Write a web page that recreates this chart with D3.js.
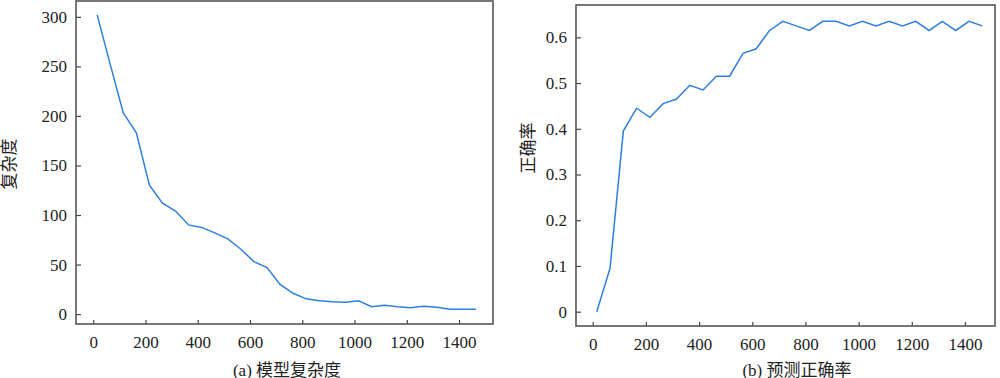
<!DOCTYPE html>
<html lang="zh">
<head>
<meta charset="UTF-8">
<script src="https://d3js.org/d3.v7.min.js"></script>
<style>
  body { margin: 0; background: #fff; }
</style>
</head>
<body>
<div id="chart"></div>
<script>
// sample positions (iterations)
var steps = [15, 65, 115, 165, 215, 265, 315, 365, 415, 465, 515, 565, 615, 665, 715,
             765, 815, 865, 915, 965, 1015, 1065, 1115, 1165, 1215, 1265, 1315, 1365, 1415, 1465];

// (a) model complexity
var complexity = [302, 252, 203, 183, 130, 112, 104, 90, 87.5, 82, 76, 65.5, 53, 47, 30,
                  21, 15.4, 13.4, 12.5, 12, 13.5, 7.5, 9, 7.5, 6.5, 8, 7, 5, 5, 5];

// (b) prediction accuracy
var accuracy = [0, 0.095, 0.395, 0.445, 0.425, 0.455, 0.465, 0.495, 0.485, 0.515, 0.515, 0.565, 0.575, 0.615, 0.635,
                0.625, 0.615, 0.635, 0.635, 0.625, 0.635, 0.625, 0.635, 0.625, 0.635, 0.615, 0.635, 0.615, 0.635, 0.625];

var xTicks = [0, 200, 400, 600, 800, 1000, 1200, 1400];
var yTicksA = [0, 50, 100, 150, 200, 250, 300];
var yTicksB = [0, 0.1, 0.2, 0.3, 0.4, 0.5, 0.6];

var FONT = "'Liberation Serif', 'Noto Sans CJK SC', serif";

var svg = d3.select("#chart").append("svg")
    .attr("width", 1000)
    .attr("height", 378);

function styleAxis(a) {
    a.attr("font-family", null).attr("font-size", null);
    a.select(".domain").remove();
    a.selectAll("line").attr("stroke", "#444").attr("stroke-width", 1.2);
    a.selectAll("text")
        .style("font-family", FONT)
        .style("font-size", "17px")
        .attr("fill", "#222");
}

function panel(o) {
    var x = d3.scaleLinear().domain(o.xDomain).range([o.left, o.right]);
    var y = d3.scaleLinear().domain(o.yDomain).range([o.bottom, o.top]);
    var g = svg.append("g");

    g.append("g")
        .attr("transform", "translate(0," + o.bottom + ")")
        .call(d3.axisBottom(x).tickValues(xTicks).tickFormat(d3.format("d"))
            .tickSizeInner(-4).tickSizeOuter(0).tickPadding(12))
        .call(styleAxis);

    g.append("g")
        .attr("transform", "translate(" + o.left + ",0)")
        .call(d3.axisLeft(y).tickValues(o.yTicks).tickFormat(o.fmt)
            .tickSizeInner(-5).tickSizeOuter(0).tickPadding(9))
        .call(styleAxis);

    g.append("rect")
        .attr("x", o.left).attr("y", o.top)
        .attr("width", o.right - o.left).attr("height", o.bottom - o.top)
        .attr("fill", "none").attr("stroke", "#555").attr("stroke-width", 1.6);

    var line = d3.line()
        .x(function (d, i) { return x(steps[i]); })
        .y(function (d) { return y(d); });

    g.append("path")
        .datum(o.values)
        .attr("d", line)
        .attr("fill", "none")
        .attr("stroke", "#2f7fe0")
        .attr("stroke-width", 1.5);

    g.append("text")
        .attr("transform", "translate(" + o.yTitleX + "," + o.yTitleY + ") rotate(-90)")
        .attr("text-anchor", "middle")
        .attr("dominant-baseline", "central")
        .style("font-family", FONT)
        .style("font-size", "17px")
        .attr("fill", "#222")
        .text(o.yTitle);

    g.append("text")
        .attr("x", o.xTitleX).attr("y", 370)
        .attr("text-anchor", "middle")
        .attr("dominant-baseline", "central")
        .style("font-family", FONT)
        .style("font-size", "17px")
        .attr("fill", "#222")
        .text(o.xTitle);
}

panel({
    left: 76, right: 493, top: 1, bottom: 324,
    xDomain: [-66, 1530], yDomain: [-10, 316],
    values: complexity, yTicks: yTicksA, fmt: d3.format("d"),
    yTitle: "复杂度", yTitleX: 9, yTitleY: 164,
    xTitle: "(a) 模型复杂度", xTitleX: 287
});

panel({
    left: 576, right: 995, top: 5, bottom: 326,
    xDomain: [-63, 1513], yDomain: [-0.0313, 0.6707],
    values: accuracy, yTicks: yTicksB, fmt: function (d) { return d === 0 ? "0" : d3.format(".1f")(d); },
    yTitle: "正确率", yTitleX: 528, yTitleY: 148,
    xTitle: "(b) 预测正确率", xTitleX: 797
});
</script>
</body>
</html>
